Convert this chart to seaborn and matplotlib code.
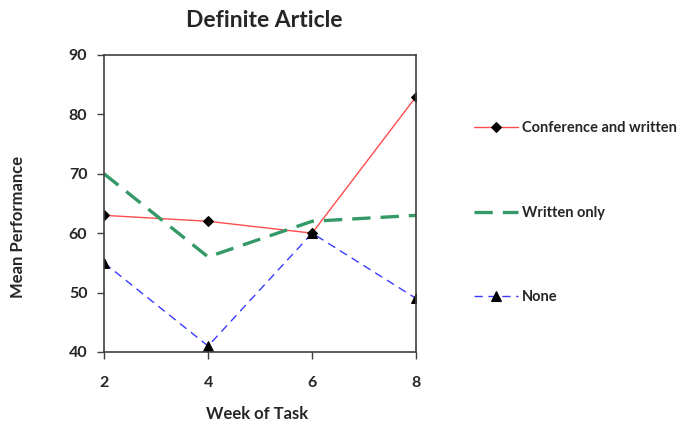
import matplotlib
matplotlib.use("Agg")
import matplotlib.pyplot as plt
import seaborn as sns
import pandas as pd

weeks = [2, 4, 6, 8]
conference_written = [63, 62, 60, 83]
written_only = [70, 56, 62, 63]
none_feedback = [55, 41, 60, 49]
series_names = ["Conference and written", "Written only", "None"]

sns.set_theme(style="white")
plt.rcParams["font.family"] = ["Lato", "DejaVu Sans"]
plt.rcParams["font.weight"] = "bold"

fig = plt.figure(figsize=(6.8, 4.23), dpi=100)
ax = fig.add_axes([0.153, 0.168, 0.459, 0.702])

df = pd.DataFrame({"week": weeks * 3,
                   "score": conference_written + written_only + none_feedback,
                   "group": [series_names[0]] * 4 + [series_names[1]] * 4 + [series_names[2]] * 4})

styles = {
    series_names[0]: dict(color="#ff4d4d", lw=1.0, ls="-", marker="D", ms=5),
    series_names[1]: dict(color="#339966", lw=2.4, ls=(0, (5.5, 3)), marker=None, ms=0),
    series_names[2]: dict(color="#3b3bff", lw=1.0, ls=(0, (6, 4)), marker="^", ms=7),
}
for name in series_names:
    st = styles[name]
    sub = df[df["group"] == name]
    sns.lineplot(data=sub, x="week", y="score", ax=ax, color=st["color"],
                 linewidth=st["lw"], linestyle=st["ls"], marker=st["marker"],
                 markersize=st["ms"], markerfacecolor="black",
                 markeredgecolor="black", label=name, legend=False)

ax.set_xlim(2, 8)
ax.set_ylim(40, 90)
ax.set_xticks(weeks)
ax.set_yticks(range(40, 91, 10))
for sp in ax.spines.values():
    sp.set_visible(True)
    sp.set_color("#404040")
    sp.set_linewidth(1.2)
ax.tick_params(axis="both", direction="out", length=5, width=1, color="#404040",
               labelsize=11.5, left=True, bottom=True)
ax.tick_params(axis="y", pad=7)
ax.tick_params(axis="x", pad=12)
for lbl in ax.get_xticklabels() + ax.get_yticklabels():
    lbl.set_fontweight("bold")

ax.set_xlabel("Week of Task", fontsize=12, fontweight="bold")
ax.set_ylabel("Mean Performance", fontsize=12, fontweight="bold")
ax.xaxis.set_label_coords(0.49, -0.209)
ax.yaxis.set_label_coords(-0.276, 0.42)
ax.xaxis.label.set_va("center")
ax.yaxis.label.set_va("center")
fig.text(0.388, 0.952, "Definite Article", ha="center", va="center",
         fontsize=16.5, fontweight="bold")

handles, labels = ax.get_legend_handles_labels()
leg = fig.legend(handles, labels, loc="upper left", bbox_to_anchor=(0.678, 0.745),
                 frameon=False, fontsize=10.5, labelspacing=4.85,
                 handlelength=3.0, handletextpad=0.28)
for t in leg.get_texts():
    t.set_fontweight("bold")

fig.savefig("out.png", dpi=100)
